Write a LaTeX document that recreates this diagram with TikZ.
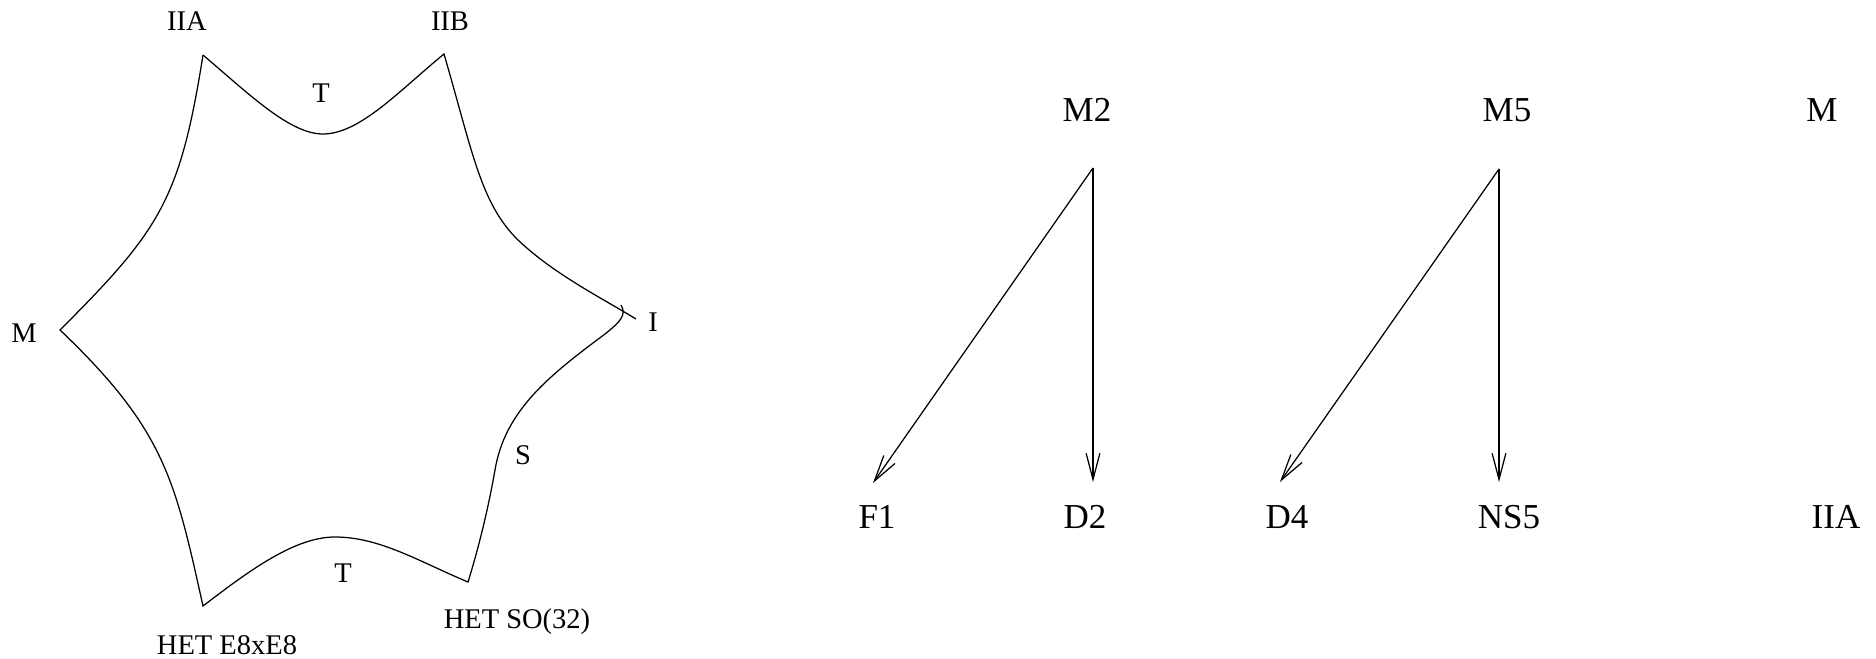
\documentclass[tikz,border=0pt]{standalone}
\usepackage{fontspec}
\setmainfont{Liberation Serif}
\usetikzlibrary{arrows.meta}
\begin{document}
\begin{tikzpicture}[x=0.4pt,y=-0.4pt, line width=0.5pt,
  lab/.style={inner sep=0pt, font=\fontsize{11.4}{13}\selectfont},
  big/.style={inner sep=0pt, font=\fontsize{14}{16}\selectfont},
  arr/.style={-{Straight Barb[length=10.5pt,width=5.5pt]}}]
\useasboundingbox (0,0) rectangle (1876,659);

% vertices of the star
\coordinate (vA) at (203,55);
\coordinate (tmin) at (323,134);
\coordinate (vB) at (444,54);
\coordinate (bi) at (515,237);
\coordinate (vI) at (636,319);
\coordinate (hook) at (621,305);
\coordinate (h2) at (605,334);
\coordinate (h3) at (495,470);
\coordinate (vSO) at (468,582);
\coordinate (bmax) at (335,537);
\coordinate (vE) at (203,606);
\coordinate (vM) at (60,330);

% star edges
\draw (vA) .. controls (250,95) and (290,134) .. (tmin)
           .. controls (360,134) and (400,90) .. (vB)
           .. controls (472,150) and (480,200) .. (bi)
           .. controls (550,272) and (600,297) .. (vI);
\draw (hook) .. controls (627,315) and (620,322) .. (h2)
             .. controls (550,375) and (505,410) .. (h3)
             .. controls (488,510) and (478,550) .. (vSO)
             .. controls (420,562) and (380,537) .. (bmax)
             .. controls (295,537) and (250,570) .. (vE)
             .. controls (175,480) and (165,430) .. (vM)
             .. controls (160,230) and (180,200) .. (vA);

% star labels
\node[lab] (lIIA) at (187,21) {IIA};
\node[lab] (lIIB) at (450,21) {IIB};
\node[lab] (lT1) at (321,93) {T};
\node[lab] (lM) at (24,333) {M};
\node[lab] (lI) at (653,322) {I};
\node[lab] (lS) at (523,455) {S};
\node[lab] (lSO) at (517,622) {HET SO(32)};
\node[lab] (lE8) at (227,645) {HET E8xE8};
\node[lab] (lT2) at (343,573) {T};

% right part
\node[big] (M2) at (1087,110) {M2};
\node[big] (M5) at (1507,110) {M5};
\node[big] (MM) at (1822,110) {M};
\node[big] (F1) at (877,517) {F1};
\node[big] (D2) at (1085,517) {D2};
\node[big] (D4) at (1287,517) {D4};
\node[big] (NS5) at (1509,517) {NS5};
\node[big] (IIA) at (1836,517) {IIA};

\coordinate (m2s) at (1093,168);
\coordinate (f1e) at (873,483);
\coordinate (d2e) at (1093,482);
\coordinate (m5s) at (1499,169);
\coordinate (d4e) at (1280,482);
\coordinate (ns5e) at (1499,482);

\draw[arr] (m2s) -- (f1e);
\draw[arr] (m2s) -- (d2e);
\draw[arr] (m5s) -- (d4e);
\draw[arr] (m5s) -- (ns5e);
\end{tikzpicture}
\end{document}
